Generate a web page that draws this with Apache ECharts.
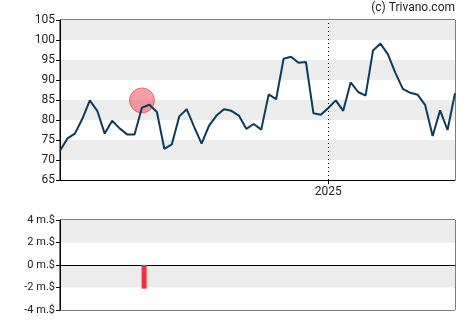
<!DOCTYPE html>
<html><head><meta charset="utf-8">
<script src="https://cdn.jsdelivr.net/npm/echarts@6/dist/echarts.min.js"></script>
<style>html,body{margin:0;padding:0;background:#fff}#c{width:470px;height:325px}</style>
</head><body><div id="c"></div>
<script>
const categories = [
'2024-04-26','2024-05-03','2024-05-10','2024-05-17','2024-05-24','2024-05-31','2024-06-07','2024-06-14','2024-06-21','2024-06-28',
'2024-07-05','2024-07-12','2024-07-19','2024-07-26','2024-08-02','2024-08-09','2024-08-16','2024-08-23','2024-08-30','2024-09-06',
'2024-09-13','2024-09-20','2024-09-27','2024-10-04','2024-10-11','2024-10-18','2024-10-25','2024-11-01','2024-11-08','2024-11-15',
'2024-11-22','2024-11-29','2024-12-06','2024-12-13','2024-12-20','2024-12-27','2025-01-03','2025-01-10','2025-01-17','2025-01-24',
'2025-01-31','2025-02-07','2025-02-14','2025-02-21','2025-02-28','2025-03-07','2025-03-14','2025-03-21','2025-03-28','2025-04-04',
'2025-04-11','2025-04-18','2025-04-25','2025-05-02'];
const prices = [
72.3,75.4,76.6,80.3,84.9,82.3,76.6,79.8,77.9,76.4,
76.4,83.1,83.8,82.0,72.8,73.9,80.9,82.7,78.3,74.1,
78.6,81.1,82.7,82.3,81.1,77.8,79.0,77.6,86.4,85.2,
95.3,95.8,94.3,94.5,81.7,81.3,83.0,84.9,82.3,89.4,
87.0,86.1,97.4,99.1,96.4,91.8,87.8,86.8,86.3,83.7,
76.0,82.4,77.5,86.7];
const yearMarkers = ['2025-01-03'];
const yearLabels = ['2025'];
const insiderDates = ['2024-07-12'];
const insiderBarDates = ['2024-07-14'];
const insiderMarkerPrices = [84.9];
const insiderValues = [-2.1];
const priceTicks = [65,70,75,80,85,90,95,100,105];
const flowTicks = [-4,-2,0,2,4];

const font = 'Roboto, "Liberation Sans", Arial, sans-serif';
const chart = echarts.init(document.getElementById('c'), null, {renderer:'canvas'});
const yearIdx = yearMarkers.map(d => categories.indexOf(d));
const day = 86400000;
const t0 = Date.parse(categories[0]);
const weekPos = (d) => (Date.parse(d) - t0) / (7*day);
chart.setOption({
  animation:false,
  backgroundColor:'#fff',
  graphic:[{type:'text', right:15, top:2, style:{text:'(c) Trivano.com', font:'12px '+font, fill:'#222', textAlign:'right'}}],
  grid:[
    {left:60, right:15, top:20, height:160, show:true, borderColor:'#000', borderWidth:1, backgroundColor:'transparent'},
    {left:60, right:15, top:220, height:90, show:true, borderColor:'#000', borderWidth:1, backgroundColor:'transparent'}
  ],
  xAxis:[
    {type:'category', gridIndex:0, data:categories, boundaryGap:false,
     axisLine:{show:true, lineStyle:{color:'#000'}},
     axisTick:{show:true, interval:(i)=>yearIdx.includes(i), length:4, lineStyle:{color:'#000'}},
     axisLabel:{show:true, interval:(i)=>yearIdx.includes(i), formatter:(v)=>{const k=yearMarkers.indexOf(v);return k>=0?yearLabels[k]:'';}, color:'#222', fontSize:12, fontFamily:font, margin:6},
     splitLine:{show:false}},
    {type:'value', gridIndex:1, min:0, max:categories.length-1,
     axisLine:{show:true, onZero:true, lineStyle:{color:'#000'}},
     axisTick:{show:false}, axisLabel:{show:false}, splitLine:{show:false}}
  ],
  yAxis:[
    {type:'value', gridIndex:0, min:priceTicks[0], max:priceTicks[priceTicks.length-1], interval:5,
     axisLine:{show:true, lineStyle:{color:'#000'}},
     axisTick:{show:true, length:4, lineStyle:{color:'#000'}},
     axisLabel:{color:'#222', fontSize:12, fontFamily:font, margin:5},
     splitLine:{show:false},
     splitArea:{show:true, areaStyle:{color:['#ffffff','#ececec']}}},
    {type:'value', gridIndex:1, min:flowTicks[0], max:flowTicks[flowTicks.length-1], interval:2,
     axisLine:{show:true, lineStyle:{color:'#000'}},
     axisTick:{show:true, length:4, lineStyle:{color:'#000'}},
     axisLabel:{color:'#222', fontSize:11, fontFamily:font, margin:5, formatter:(v)=>v+' m.$'},
     splitLine:{show:false},
     splitArea:{show:true, areaStyle:{color:['#ffffff','#ececec']}}}
  ],
  series:[
    {type:'scatter', xAxisIndex:0, yAxisIndex:0, data:insiderDates.map((d,i)=>[d,insiderMarkerPrices[i]]),
     symbolSize:25, itemStyle:{color:'rgba(238,60,75,0.62)', borderColor:'rgba(228,50,65,0.75)', borderWidth:1}, z:2},
    {type:'line', xAxisIndex:0, yAxisIndex:0, data:prices, showSymbol:false, symbol:'none',
     lineStyle:{color:'#0f3a5a', width:2}, z:3,
     markLine:{silent:true, symbol:'none', label:{show:false},
       lineStyle:{color:'#000', type:[1,3], width:1},
       data:yearMarkers.map(d=>({xAxis:d}))}},
    {type:'bar', xAxisIndex:1, yAxisIndex:1, data:insiderBarDates.map((d,i)=>[weekPos(d),insiderValues[i]]),
     barWidth:5, itemStyle:{color:'#ee3040'}}
  ]
});
</script></body></html>
